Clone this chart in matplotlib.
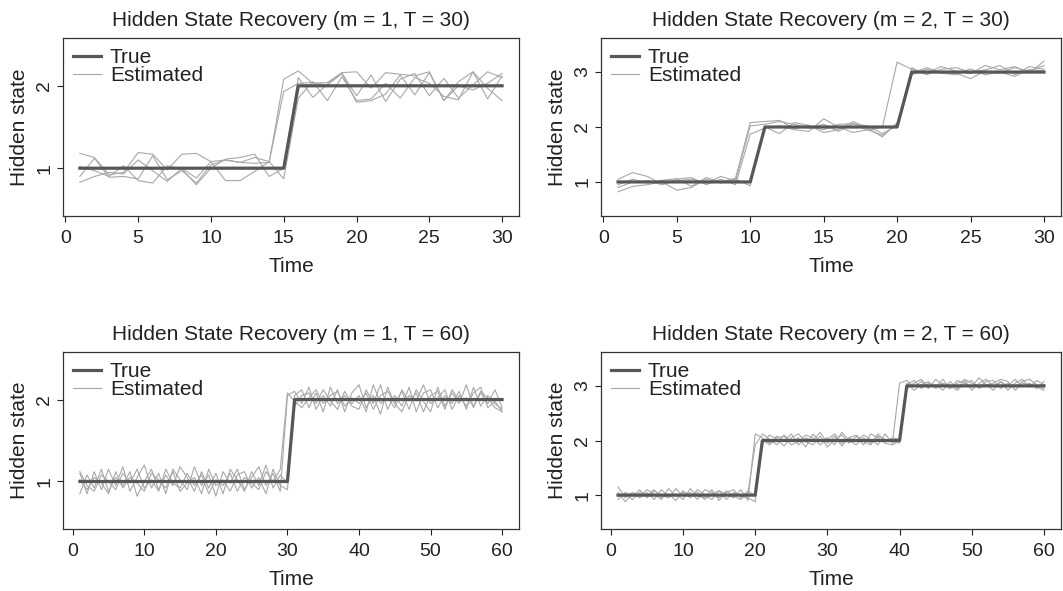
import matplotlib
matplotlib.use("Agg")
import matplotlib.pyplot as plt

plt.rcParams["font.family"] = ["Liberation Sans", "DejaVu Sans"]

# ─── Dati ─────────────────────────────────────────────────────────────────────

time_30 = list(range(1, 31))
time_60 = list(range(1, 61))

true_m1_t30 = [1] * 15 + [2] * 15
true_m2_t30 = [1] * 10 + [2] * 10 + [3] * 10
true_m1_t60 = [1] * 30 + [2] * 30
true_m2_t60 = [1] * 20 + [2] * 20 + [3] * 20

est_m1_t30 = [
    [1.18, 1.13, 0.92, 0.95, 1.19, 1.17, 0.98, 1.17, 1.18, 1.08, 1.10, 1.07, 1.06, 1.07, 2.08,
     2.18, 2.03, 2.04, 2.16, 2.17, 1.97, 2.16, 2.14, 2.12, 2.17, 1.82, 2.05, 2.17, 1.84, 2.12],
    [0.90, 1.12, 0.89, 0.90, 0.87, 1.15, 0.86, 0.97, 0.82, 1.04, 1.10, 1.07, 1.13, 1.08, 1.93,
     2.03, 2.04, 2.01, 2.15, 1.88, 2.13, 1.81, 2.08, 2.15, 1.88, 2.09, 1.85, 2.01, 2.17, 2.10],
    [0.83, 0.90, 0.95, 0.93, 1.10, 0.97, 0.84, 1.00, 0.88, 1.08, 0.85, 0.85, 0.96, 1.08, 0.87,
     1.85, 2.05, 1.82, 2.11, 1.82, 1.84, 2.03, 1.85, 2.10, 2.03, 1.87, 1.83, 2.17, 1.97, 1.82],
    [1.02, 0.97, 0.90, 1.03, 0.85, 0.82, 1.03, 0.99, 0.80, 1.00, 1.11, 1.13, 1.17, 0.90, 1.00,
     2.10, 1.86, 2.02, 2.15, 1.80, 1.82, 1.90, 2.13, 1.89, 2.16, 1.82, 2.00, 1.95, 2.03, 2.15],
]

est_m2_t30 = [
    [0.95, 1.05, 0.98, 1.03, 1.06, 0.92, 1.08, 1.00, 1.07, 2.08, 2.10, 2.12, 1.97, 2.02, 1.95,
     2.05, 2.06, 1.94, 2.00, 3.18, 3.05, 2.98, 3.10, 3.02, 2.97, 3.12, 3.04, 3.10, 2.98, 3.20],
    [0.90, 1.00, 1.02, 0.95, 1.02, 1.05, 0.98, 1.10, 1.02, 2.02, 2.05, 2.10, 2.05, 1.98, 2.05,
     1.92, 2.06, 2.02, 1.88, 2.02, 3.08, 2.95, 3.05, 3.08, 3.00, 3.04, 3.12, 2.95, 3.10, 3.05],
    [1.05, 1.17, 1.10, 0.96, 1.05, 1.08, 0.95, 1.05, 0.95, 1.87, 1.98, 2.02, 1.95, 1.92, 2.15,
     2.00, 1.90, 1.95, 1.85, 2.05, 2.98, 3.08, 3.00, 2.98, 2.88, 3.02, 2.98, 3.08, 3.02, 3.12],
    [0.82, 0.92, 0.95, 1.00, 0.85, 0.90, 1.05, 0.98, 1.05, 0.93, 2.00, 1.88, 2.08, 2.03, 1.90,
     1.95, 2.10, 1.98, 1.82, 2.08, 2.95, 3.05, 2.98, 2.95, 3.06, 2.95, 3.00, 2.92, 3.05, 3.02],
]

est_m1_t60 = [
    [1.10, 0.85, 1.12, 0.90, 1.15, 0.95, 1.18, 0.88, 1.05, 1.20, 0.92, 1.10, 0.85, 1.15, 1.02,
     0.90, 1.18, 0.95, 1.08, 0.82, 1.12, 0.98, 1.15, 0.90, 1.05, 1.18, 0.95, 1.10, 0.88, 2.05,
     2.10, 1.95, 2.15, 1.88, 2.05, 1.92, 2.12, 1.85, 2.08, 2.18, 1.90, 2.05, 1.82, 2.15, 1.95,
     2.10, 1.88, 2.12, 1.98, 1.85, 2.15, 1.92, 2.08, 1.95, 2.18, 1.90, 2.10, 2.02, 1.90, 1.85],
    [0.85, 1.08, 0.92, 1.15, 0.88, 1.05, 0.95, 1.12, 0.82, 1.00, 1.15, 0.90, 1.08, 0.95, 1.18,
     1.05, 0.88, 1.12, 0.92, 1.10, 0.85, 1.15, 1.02, 0.88, 1.12, 0.95, 1.20, 0.92, 1.08, 0.98,
     2.05, 2.12, 1.90, 2.08, 1.85, 2.15, 1.95, 2.05, 1.92, 1.88, 2.12, 1.95, 2.18, 1.88, 2.05,
     1.92, 2.15, 1.85, 2.08, 2.12, 1.90, 2.05, 1.95, 2.10, 1.88, 2.15, 1.92, 2.05, 1.95, 1.88],
    [1.02, 0.90, 1.05, 0.98, 0.85, 1.12, 0.92, 1.05, 0.98, 0.88, 1.10, 1.02, 0.92, 1.12, 0.88,
     0.98, 1.05, 0.85, 1.15, 0.95, 1.02, 0.88, 1.08, 1.12, 0.92, 1.05, 0.85, 1.15, 0.95, 0.90,
     1.92, 2.05, 2.08, 1.95, 2.12, 1.98, 1.88, 2.10, 1.95, 2.05, 1.85, 2.18, 1.95, 2.02, 1.90,
     2.12, 1.98, 2.08, 1.85, 2.05, 2.10, 1.88, 2.12, 1.98, 2.02, 1.92, 2.08, 1.95, 2.12, 1.90],
    [1.12, 0.95, 0.88, 1.08, 1.00, 0.90, 1.10, 0.98, 1.15, 0.92, 1.02, 0.88, 1.15, 0.98, 0.92,
     1.10, 0.95, 1.08, 0.85, 1.02, 0.95, 1.10, 0.88, 1.05, 0.98, 0.90, 1.12, 1.00, 1.15, 2.08,
     1.98, 1.90, 2.02, 2.12, 1.95, 2.05, 2.10, 1.92, 2.02, 1.95, 2.08, 1.88, 2.05, 2.10, 1.95,
     1.85, 2.05, 1.98, 2.18, 1.95, 2.02, 2.12, 1.88, 2.05, 1.92, 2.08, 2.15, 1.90, 1.98, 1.85],
]

est_m2_t60 = [
    [1.15, 0.95, 1.05, 0.98, 1.10, 1.02, 0.92, 1.12, 0.98, 1.05, 0.95, 1.10, 1.00, 0.92, 1.08,
     1.02, 0.95, 1.10, 0.90, 2.12, 2.05, 1.95, 2.08, 1.98, 2.12, 1.92, 2.05, 2.00, 2.15, 1.95,
     2.08, 1.90, 2.05, 1.98, 2.10, 2.02, 1.92, 2.12, 1.95, 3.05, 3.10, 2.98, 3.08, 2.95, 3.12,
     3.02, 2.95, 3.10, 3.05, 2.98, 3.15, 3.02, 2.92, 3.08, 3.00, 3.12, 2.98, 3.05, 2.95, 3.08],
    [0.92, 1.05, 0.98, 1.10, 0.95, 1.08, 1.00, 0.95, 1.12, 0.98, 1.05, 0.92, 1.10, 1.05, 0.95,
     1.08, 0.98, 0.92, 1.05, 1.92, 2.12, 2.02, 1.92, 2.10, 1.98, 2.05, 1.88, 2.12, 1.98, 2.05,
     1.92, 2.15, 2.00, 1.92, 2.05, 1.95, 2.12, 1.98, 2.05, 2.02, 3.02, 3.10, 2.95, 3.05, 2.98,
     3.12, 2.95, 3.05, 3.10, 2.92, 3.05, 3.12, 2.98, 3.08, 2.92, 3.05, 3.12, 2.98, 3.10, 3.02],
    [1.05, 0.88, 1.02, 0.95, 1.05, 0.92, 1.10, 0.98, 1.02, 0.92, 1.12, 0.98, 0.95, 1.10, 0.90,
     1.05, 1.10, 0.95, 1.08, 0.98, 1.95, 2.10, 2.02, 1.90, 2.05, 2.12, 1.98, 1.92, 2.08, 1.88,
     2.02, 2.10, 1.95, 2.08, 1.92, 2.12, 2.05, 1.95, 1.92, 2.00, 2.95, 3.05, 3.12, 2.98, 3.02,
     2.92, 3.08, 2.95, 3.12, 3.05, 2.98, 3.08, 3.10, 2.95, 3.05, 2.98, 3.08, 3.12, 3.02, 2.95],
    [0.98, 1.02, 0.92, 1.05, 0.98, 1.10, 0.95, 1.02, 0.90, 1.08, 0.98, 1.05, 0.92, 1.02, 1.08,
     0.92, 1.05, 0.98, 0.95, 0.88, 2.02, 1.92, 2.05, 2.08, 1.92, 1.98, 2.10, 2.05, 1.92, 2.02,
     2.12, 1.95, 2.05, 2.10, 1.98, 1.92, 2.08, 2.02, 1.98, 1.95, 3.05, 2.92, 3.02, 3.08, 2.95,
     3.05, 3.00, 2.92, 3.05, 3.10, 2.95, 3.02, 3.05, 3.12, 3.08, 2.92, 3.05, 3.02, 2.98, 2.92],
]

titles = [
    "Hidden State Recovery (m = 1, T = 30)",
    "Hidden State Recovery (m = 2, T = 30)",
    "Hidden State Recovery (m = 1, T = 60)",
    "Hidden State Recovery (m = 2, T = 60)",
]
n_states = [1, 2, 1, 2]
xticks_30 = [0, 5, 10, 15, 20, 25, 30]
xticks_60 = [0, 10, 20, 30, 40, 50, 60]

# ─── Stile ────────────────────────────────────────────────────────────────────

COL_TRUE = "#575757"
COL_EST = "#a8a8a8"
COL_TXT = "#222222"


def r_lim(lo, hi):
    """Limiti stile R (estensione del 4%)."""
    d = (hi - lo) * 0.04
    return lo - d, hi + d


W, H = 1063, 591
fig = plt.figure(figsize=(W / 100, H / 100), dpi=100)

# box degli assi in pixel: (sinistra, alto, destra, basso)
boxes = [(63, 38, 519, 216), (601, 38, 1061, 216),
         (63, 352, 519, 529), (601, 352, 1061, 529)]

pannelli = [
    (time_30, true_m1_t30, est_m1_t30, xticks_30),
    (time_30, true_m2_t30, est_m2_t30, xticks_30),
    (time_60, true_m1_t60, est_m1_t60, xticks_60),
    (time_60, true_m2_t60, est_m2_t60, xticks_60),
]

for (x0, y0, x1, y1), (t, vero, stime, xt), titolo, m in zip(boxes, pannelli, titles, n_states):
    ax = fig.add_axes([x0 / W, 1 - y1 / H, (x1 - x0) / W, (y1 - y0) / H])

    for i, serie in enumerate(stime):
        ax.plot(t, serie, color=COL_EST, lw=0.8,
                label="Estimated" if i == 0 else None, zorder=2)
    ax.plot(t, vero, color=COL_TRUE, lw=2.3, label="True", zorder=3)

    ax.set_xlim(*r_lim(1, len(t)))
    ax.set_ylim(*r_lim(0.5, m + 1.5))
    ax.set_xticks(xt)
    ax.set_yticks(list(range(1, m + 2)))
    ax.tick_params(direction="out", length=4, width=0.8, colors=COL_TXT,
                   labelsize=14)
    ax.tick_params(axis="x", pad=6)
    ax.tick_params(axis="y", pad=3)
    for lab in ax.get_yticklabels():
        lab.set_rotation(90)
        lab.set_va("center")

    for sp in ax.spines.values():
        sp.set_color("#333333")
        sp.set_linewidth(0.9)

    ax.set_title(titolo, fontsize=15, color=COL_TXT, pad=9)
    ax.set_xlabel("Time", fontsize=15, color=COL_TXT, labelpad=7)
    ax.set_ylabel("Hidden state", fontsize=15, color=COL_TXT, labelpad=5)

    h, l = ax.get_legend_handles_labels()
    ordine = [l.index("True"), l.index("Estimated")]
    ax.legend([h[k] for k in ordine], [l[k] for k in ordine], loc="upper left",
              frameon=False, fontsize=15, handlelength=1.3, handletextpad=0.45,
              labelspacing=-0.05, borderpad=0.0, borderaxespad=0.5,
              labelcolor=COL_TXT)

fig.savefig("out.png", dpi=100)
